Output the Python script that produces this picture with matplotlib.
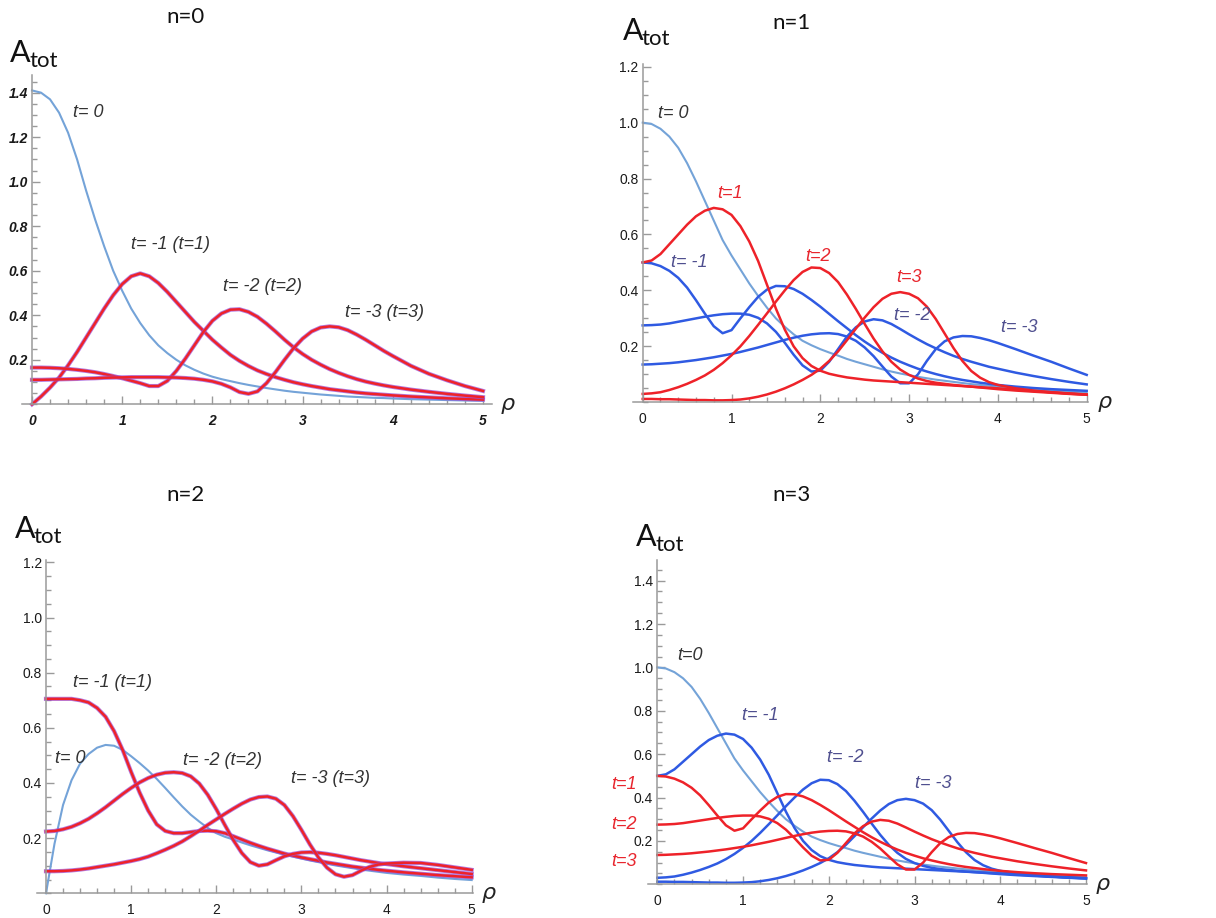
import matplotlib.pyplot as plt
from matplotlib.ticker import MultipleLocator

plt.rcParams['font.family'] = ['Liberation Sans', 'DejaVu Sans']

# radial coordinate shared by every curve (finer where the curves bend)
rho = [0.0, 0.1, 0.2, 0.3, 0.4, 0.5, 0.6, 0.7, 0.8, 0.9,
       1.0, 1.1, 1.2, 1.3, 1.4, 1.5, 1.6, 1.7, 1.8, 1.9,
       2.0, 2.1, 2.2, 2.3, 2.4, 2.5, 2.6, 2.7, 2.8, 2.9,
       3.0, 3.1, 3.2, 3.3, 3.4, 3.5, 3.6, 3.7, 3.8, 3.9,
       4.0, 4.2, 4.4, 4.6, 4.8, 5.0]

# n = 0 (t = -k and t = k coincide)
n0_t0 = [1.41, 1.40, 1.37, 1.31, 1.22, 1.10, 0.96, 0.83, 0.71, 0.60,
         0.51, 0.43, 0.365, 0.31, 0.265, 0.23, 0.20, 0.175, 0.155, 0.138,
         0.124, 0.113, 0.104, 0.095, 0.087, 0.08, 0.073, 0.067, 0.061, 0.056,
         0.052, 0.048, 0.044, 0.041, 0.038, 0.035, 0.033, 0.031, 0.029, 0.028,
         0.026, 0.023, 0.021, 0.019, 0.017, 0.016]
n0_t1 = [0.0, 0.035, 0.075, 0.12, 0.175, 0.235, 0.30, 0.365, 0.43, 0.49,
         0.54, 0.575, 0.588, 0.575, 0.545, 0.505, 0.46, 0.415, 0.37, 0.33,
         0.29, 0.255, 0.222, 0.195, 0.172, 0.152, 0.136, 0.122, 0.11, 0.099,
         0.09, 0.082, 0.075, 0.068, 0.063, 0.058, 0.053, 0.049, 0.046, 0.043,
         0.04, 0.035, 0.031, 0.027, 0.024, 0.021]
n0_t2 = [0.165, 0.165, 0.164, 0.162, 0.159, 0.155, 0.15, 0.144, 0.136, 0.127,
         0.117, 0.106, 0.095, 0.082, 0.082, 0.105, 0.15, 0.205, 0.265, 0.325,
         0.375, 0.408, 0.425, 0.427, 0.415, 0.393, 0.362, 0.327, 0.29, 0.256,
         0.226, 0.2, 0.178, 0.158, 0.141, 0.126, 0.113, 0.102, 0.093, 0.085,
         0.078, 0.066, 0.056, 0.047, 0.039, 0.032]
n0_t3 = [0.11, 0.11, 0.111, 0.112, 0.113, 0.114, 0.116, 0.117, 0.119, 0.12,
         0.121, 0.122, 0.122, 0.122, 0.122, 0.121, 0.12, 0.118, 0.115, 0.11,
         0.103, 0.092, 0.076, 0.055, 0.047, 0.058, 0.095, 0.145, 0.2, 0.252,
         0.295, 0.327, 0.345, 0.35, 0.346, 0.333, 0.313, 0.29, 0.265, 0.24,
         0.217, 0.173, 0.137, 0.108, 0.082, 0.06]

# n = 1
n1_t0 = [1.0, 0.995, 0.978, 0.95, 0.91, 0.855, 0.79, 0.72, 0.65, 0.58,
         0.525, 0.475, 0.425, 0.38, 0.338, 0.3, 0.27, 0.243, 0.22, 0.204,
         0.19, 0.178, 0.167, 0.155, 0.145, 0.136, 0.127, 0.118, 0.11, 0.103,
         0.097, 0.091, 0.086, 0.081, 0.077, 0.073, 0.069, 0.065, 0.062, 0.059,
         0.056, 0.051, 0.046, 0.042, 0.038, 0.035]
n1_t1 = [0.5, 0.507, 0.53, 0.565, 0.6, 0.635, 0.665, 0.685, 0.695, 0.69,
         0.67, 0.63, 0.575, 0.505, 0.42, 0.335, 0.26, 0.2, 0.158, 0.13,
         0.113, 0.102, 0.095, 0.089, 0.085, 0.081, 0.078, 0.076, 0.074, 0.072,
         0.07, 0.068, 0.066, 0.064, 0.062, 0.06, 0.058, 0.056, 0.054, 0.052,
         0.05, 0.045, 0.04, 0.036, 0.032, 0.028]
n1_t2 = [0.03, 0.032, 0.036, 0.044, 0.054, 0.066, 0.08, 0.096, 0.116, 0.14,
         0.168, 0.2, 0.237, 0.277, 0.318, 0.36, 0.4, 0.437, 0.466, 0.482,
         0.48, 0.462, 0.43, 0.385, 0.334, 0.28, 0.228, 0.182, 0.145, 0.117,
         0.098, 0.085, 0.076, 0.07, 0.066, 0.062, 0.059, 0.056, 0.053, 0.05,
         0.047, 0.042, 0.038, 0.034, 0.03, 0.027]
n1_t3 = [0.012, 0.012, 0.011, 0.011, 0.01, 0.009, 0.008, 0.008, 0.007, 0.007,
         0.008, 0.01, 0.014, 0.02, 0.028, 0.038, 0.05, 0.064, 0.08, 0.098,
         0.12, 0.148, 0.182, 0.222, 0.263, 0.303, 0.34, 0.37, 0.388, 0.394,
         0.388, 0.372, 0.342, 0.298, 0.246, 0.194, 0.148, 0.112, 0.088, 0.072,
         0.062, 0.05, 0.042, 0.036, 0.031, 0.027]
n1_tm1 = [0.5, 0.497, 0.487, 0.47, 0.445, 0.41, 0.365, 0.317, 0.272, 0.247,
          0.258, 0.3, 0.34, 0.377, 0.403, 0.416, 0.415, 0.405, 0.388, 0.366,
          0.342, 0.316, 0.29, 0.265, 0.24, 0.217, 0.196, 0.177, 0.16, 0.145,
          0.132, 0.12, 0.11, 0.101, 0.093, 0.086, 0.08, 0.075, 0.07, 0.066,
          0.062, 0.056, 0.051, 0.047, 0.044, 0.041]
n1_tm2 = [0.275, 0.276, 0.278, 0.282, 0.288, 0.294, 0.3, 0.306, 0.311, 0.315,
          0.317, 0.317, 0.313, 0.302, 0.282, 0.252, 0.213, 0.17, 0.132, 0.11,
          0.113, 0.145, 0.19, 0.235, 0.268, 0.289, 0.297, 0.293, 0.28, 0.262,
          0.243, 0.225, 0.208, 0.193, 0.179, 0.166, 0.155, 0.145, 0.136, 0.127,
          0.12, 0.106, 0.094, 0.083, 0.073, 0.064]
n1_tm3 = [0.135, 0.136, 0.138, 0.14, 0.143, 0.147, 0.151, 0.156, 0.161, 0.167,
          0.173, 0.18, 0.188, 0.196, 0.205, 0.214, 0.223, 0.231, 0.238, 0.243,
          0.246, 0.247, 0.244, 0.235, 0.22, 0.196, 0.165, 0.128, 0.092, 0.068,
          0.068, 0.1, 0.148, 0.19, 0.218, 0.232, 0.237, 0.236, 0.23, 0.222,
          0.212, 0.19, 0.167, 0.145, 0.121, 0.098]

# n = 2 (t = -k and t = k coincide)
n2_t0 = [0.0, 0.18, 0.32, 0.41, 0.47, 0.505, 0.528, 0.538, 0.535, 0.52,
         0.497, 0.472, 0.445, 0.415, 0.382, 0.348, 0.315, 0.285, 0.26, 0.237,
         0.218, 0.205, 0.195, 0.184, 0.174, 0.165, 0.156, 0.148, 0.14, 0.133,
         0.126, 0.119, 0.113, 0.107, 0.101, 0.096, 0.091, 0.086, 0.082, 0.078,
         0.074, 0.068, 0.063, 0.057, 0.052, 0.048]
n2_t1 = [0.705, 0.705, 0.705, 0.705, 0.7, 0.692, 0.672, 0.64, 0.588, 0.52,
         0.44, 0.365, 0.3, 0.25, 0.226, 0.218, 0.218, 0.222, 0.226, 0.227,
         0.225, 0.218, 0.207, 0.195, 0.183, 0.172, 0.162, 0.153, 0.144, 0.137,
         0.13, 0.124, 0.118, 0.112, 0.107, 0.102, 0.097, 0.093, 0.089, 0.085,
         0.082, 0.076, 0.071, 0.066, 0.062, 0.058]
n2_t2 = [0.224, 0.226, 0.232, 0.241, 0.254, 0.27, 0.29, 0.312, 0.336, 0.36,
         0.382, 0.402, 0.418, 0.43, 0.437, 0.439, 0.436, 0.424, 0.398, 0.357,
         0.305, 0.248, 0.193, 0.146, 0.113, 0.1, 0.105, 0.12, 0.134, 0.143,
         0.148, 0.149, 0.147, 0.143, 0.138, 0.132, 0.126, 0.12, 0.115, 0.11,
         0.106, 0.098, 0.091, 0.084, 0.077, 0.07]
n2_t3 = [0.08, 0.08, 0.081, 0.083, 0.086, 0.09, 0.095, 0.1, 0.105, 0.111,
         0.117, 0.124, 0.133, 0.145, 0.158, 0.172, 0.188, 0.207, 0.227, 0.248,
         0.268, 0.288, 0.307, 0.325, 0.34, 0.349, 0.351, 0.343, 0.32, 0.28,
         0.23, 0.177, 0.13, 0.093, 0.069, 0.06, 0.066, 0.082, 0.096, 0.104,
         0.108, 0.111, 0.11, 0.103, 0.094, 0.085]

# n = 3: same profiles as n = 1 with the sign of t exchanged
n3_t0 = n1_t0
n3_tm1, n3_tm2, n3_tm3 = n1_t1, n1_t2, n1_t3
n3_t1, n3_t2, n3_t3 = n1_tm1, n1_tm2, n1_tm3

LIGHT = '#74a3d8'
BLUE = '#2f5ae2'
RED = '#ee2229'
FRINGE = '#9a4fd6'
DARK_TXT = '#333333'
RED_TXT = '#e8262e'
BLUE_TXT = '#4f4f8f'

W, H = 1216, 918
fig = plt.figure(figsize=(W / 100, H / 100), dpi=100)


def add_panel(x0, x5, y0, y_unit, xlim, ytop, italic=False):
    ppx = (x5 - x0) / 5
    left = x0 + xlim[0] * ppx
    width = (xlim[1] - xlim[0]) * ppx
    height = ytop * y_unit
    ax = fig.add_axes([left / W, 1 - y0 / H, width / W, height / H])
    ax.set_xlim(*xlim)
    ax.set_ylim(0, ytop)
    for s in ('top', 'right'):
        ax.spines[s].set_visible(False)
    ax.spines['left'].set_position(('data', 0))
    for s in ('left', 'bottom'):
        ax.spines[s].set_color('#9a9a9a')
        ax.spines[s].set_linewidth(1.1)
    ax.set_xticks([0, 1, 2, 3, 4, 5])
    yt = [v / 10 for v in range(2, int(round(ytop * 10)) + 1, 2)]
    ax.set_yticks(yt)
    ax.set_yticklabels([f'{v:.1f}' for v in yt])
    ax.xaxis.set_minor_locator(MultipleLocator(0.2))
    ax.yaxis.set_minor_locator(MultipleLocator(0.05))
    ax.tick_params(which='both', direction='in', color='#9a9a9a', width=1.0)
    ax.tick_params(which='major', length=6)
    ax.tick_params(which='minor', length=3.5)
    ax.tick_params(axis='x', pad=7)
    ax.tick_params(axis='y', pad=3)
    for lab in ax.get_xticklabels() + ax.get_yticklabels():
        lab.set_fontsize(10)
        lab.set_color('#1a1a1a')
        if italic:
            lab.set_style('italic')
            lab.set_weight('bold')
    ax.patch.set_alpha(0)
    ax.text(xlim[1] + 0.1, 0, 'ρ', fontsize=16, style='italic', color='#222222',
            va='center', ha='left', family=['DejaVu Sans'], clip_on=False)
    return ax


def line(ax, y, color, lw=1.8, fringe=False):
    if fringe:
        ax.plot(rho, y, color=FRINGE, lw=lw + 1.2, alpha=0.75, clip_on=False,
                solid_joinstyle='round')
    ax.plot(rho, y, color=color, lw=lw, clip_on=False, solid_joinstyle='round')


def header(title, tx, ty, ax_x, ax_y):
    fig.text(tx / W, 1 - ty / H, title, fontsize=16, ha='center', va='center',
             family=['Lato', 'DejaVu Sans'], color='#111111')
    fig.text(ax_x / W, 1 - ax_y / H, 'A', fontsize=22, ha='left', va='baseline',
             family=['Lato', 'DejaVu Sans'], color='#111111')
    fig.text((ax_x + 19) / W, 1 - (ax_y + 5) / H, 'tot', fontsize=16, ha='left',
             va='baseline', family=['Lato', 'DejaVu Sans'], color='#111111')


def label(ax, x, y, s, color=DARK_TXT):
    ax.text(x, y, s, fontsize=13, style='italic', color=color, ha='center',
            va='center', clip_on=False)


# ---- n = 0
ax1 = add_panel(32, 483, 404.3, 222.6, (-0.11, 5.1), 1.48, italic=True)
line(ax1, n0_t0, LIGHT, lw=1.5)
for y in (n0_t1, n0_t2, n0_t3):
    line(ax1, y, RED, fringe=True)
label(ax1, 0.62, 1.31, 't= 0')
label(ax1, 1.54, 0.72, 't= -1 (t=1)')
label(ax1, 2.55, 0.527, 't= -2 (t=2)')
label(ax1, 3.91, 0.414, 't= -3 (t=3)')
header('n=0', 185, 17, 10, 62)

# ---- n = 1
ax2 = add_panel(642.7, 1086.7, 402.3, 279.7, (-0.11, 5.02), 1.21)
line(ax2, n1_t0, LIGHT, lw=1.5)
for y in (n1_tm1, n1_tm2, n1_tm3):
    line(ax2, y, BLUE)
for y in (n1_t1, n1_t2, n1_t3):
    line(ax2, y, RED)
label(ax2, 0.34, 1.034, 't= 0')
label(ax2, 0.98, 0.748, 't=1', RED_TXT)
label(ax2, 0.52, 0.50, 't= -1', BLUE_TXT)
label(ax2, 1.97, 0.52, 't=2', RED_TXT)
label(ax2, 3.0, 0.445, 't=3', RED_TXT)
label(ax2, 3.04, 0.312, 't= -2', BLUE_TXT)
label(ax2, 4.24, 0.266, 't= -3', BLUE_TXT)
header('n=1', 792, 23, 623, 40)

# ---- n = 2
ax3 = add_panel(46, 471.7, 893.3, 275.8, (-0.11, 5.02), 1.21)
line(ax3, n2_t0, LIGHT, lw=1.5)
for y in (n2_t1, n2_t2, n2_t3):
    line(ax3, y, RED, fringe=True)
label(ax3, 0.78, 0.766, 't= -1 (t=1)')
label(ax3, 0.29, 0.49, 't= 0')
label(ax3, 2.07, 0.483, 't= -2 (t=2)')
label(ax3, 3.34, 0.418, 't= -3 (t=3)')
header('n=2', 185, 495, 15, 538)

# ---- n = 3
ax4 = add_panel(657.3, 1086, 884.3, 216.9, (-0.105, 5.01), 1.495)
line(ax4, n3_t0, LIGHT, lw=1.5)
for y in (n3_tm1, n3_tm2, n3_tm3):
    line(ax4, y, BLUE)
for y in (n3_t1, n3_t2, n3_t3):
    line(ax4, y, RED)
label(ax4, 0.38, 1.057, 't=0')
label(ax4, 1.2, 0.78, 't= -1', BLUE_TXT)
label(ax4, 2.19, 0.583, 't= -2', BLUE_TXT)
label(ax4, 3.22, 0.467, 't= -3', BLUE_TXT)
label(ax4, -0.39, 0.458, 't=1', RED_TXT)
label(ax4, -0.39, 0.274, 't=2', RED_TXT)
label(ax4, -0.39, 0.103, 't=3', RED_TXT)
header('n=3', 792, 495, 636, 546)

fig.savefig('out.png', dpi=100)
